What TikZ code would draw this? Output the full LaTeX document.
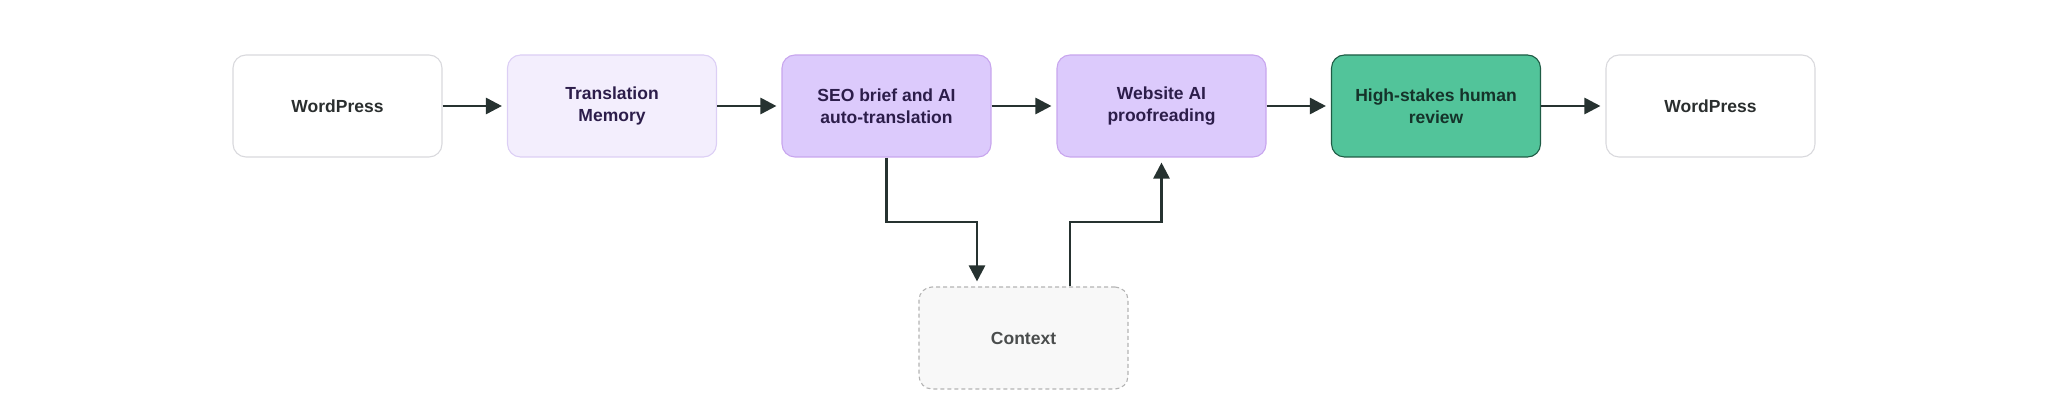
\documentclass[tikz,border=0pt]{standalone}
\usepackage{fontspec}
\setmainfont{Liberation Sans}
\usetikzlibrary{arrows.meta,positioning}
\definecolor{linec}{HTML}{263230}
\definecolor{wborder}{HTML}{D9D9DD}
\definecolor{tmfill}{HTML}{F3EEFD}
\definecolor{tmborder}{HTML}{DCCFF5}
\definecolor{pfill}{HTML}{DCCAFC}
\definecolor{pborder}{HTML}{C8A6EE}
\definecolor{ptext}{HTML}{2C1D4A}
\definecolor{gfill}{HTML}{52C49A}
\definecolor{gborder}{HTML}{1E5C45}
\definecolor{gtext}{HTML}{15332A}
\definecolor{ctxfill}{HTML}{F8F8F8}
\definecolor{ctxborder}{HTML}{B4B4B4}
\definecolor{dtext}{HTML}{2A2E2E}
\definecolor{ctxtext}{HTML}{4A4D4D}
\tikzset{
  box/.style={rounded corners=13pt, minimum width=209pt, minimum height=102pt,
    line width=1.1pt, align=center, inner sep=0pt,
    font=\fontsize{17.5pt}{22pt}\selectfont\bfseries},
  wpbox/.style={box, draw=wborder, fill=white, text=dtext},
  tmbox/.style={box, draw=tmborder, fill=tmfill, text=ptext},
  pbox/.style={box, draw=pborder, fill=pfill, text=ptext},
  gbox/.style={box, draw=gborder, fill=gfill, text=gtext},
  ctxbox/.style={box, draw=ctxborder, fill=ctxfill, text=ctxtext, dashed, dash pattern=on 4pt off 3pt},
  conn/.style={draw=linec, line width=2.7pt, -{Triangle[length=16pt,width=16pt]}, shorten >=5pt},
}
\begin{document}
\begin{tikzpicture}[x=1pt,y=-1pt]
\useasboundingbox (0,0) rectangle (2048,419);
\node[wpbox] (wp1) at (337.5,106) {WordPress};
\node[tmbox] (tm) at (612,106) {Translation\\Memory};
\node[pbox] (seo) at (886.5,106) {SEO brief and AI\\auto-translation};
\node[pbox] (web) at (1161.5,106) {Website AI\\proofreading};
\node[gbox] (hs) at (1436,106) {High-stakes human\\review};
\node[wpbox] (wp2) at (1710.5,106) {WordPress};
\node[ctxbox] (ctx) at (1023.5,338) {Context};
\coordinate (dturn1) at (886.5,222);
\coordinate (dturn2) at (977,222);
\coordinate (uturn1) at (1070,222);
\coordinate (uturn2) at (1161.5,222);
\draw[conn] (wp1.east) -- (tm.west);
\draw[conn] (tm.east) -- (seo.west);
\draw[conn] (seo.east) -- (web.west);
\draw[conn] (web.east) -- (hs.west);
\draw[conn] (hs.east) -- (wp2.west);
\draw[conn] (seo.south) -- (dturn1) -- (dturn2) -- (dturn2 |- ctx.north);
\draw[conn] (uturn1 |- ctx.north) -- (uturn1) -- (uturn2) -- (web.south);
\end{tikzpicture}
\end{document}
